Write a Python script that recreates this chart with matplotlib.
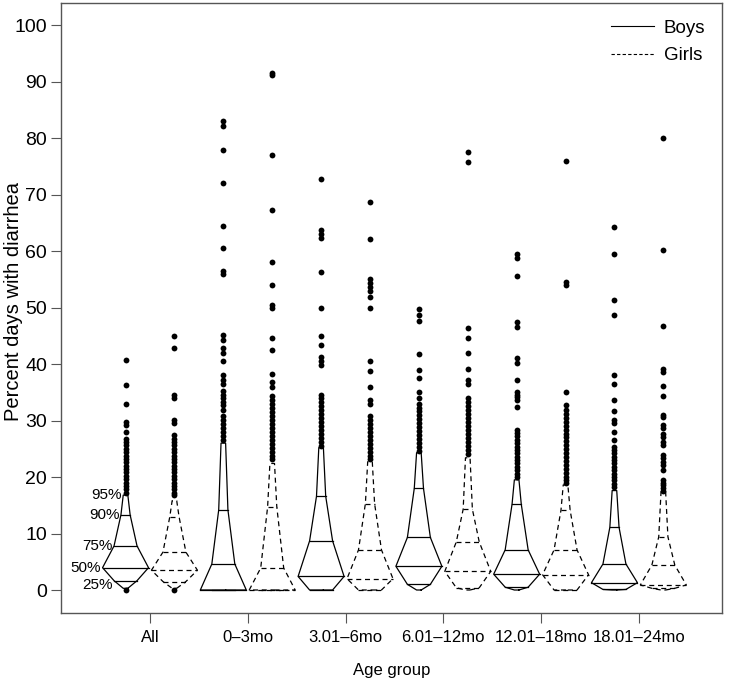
import matplotlib.pyplot as plt
from matplotlib.lines import Line2D

plt.rcParams['font.family'] = ['Liberation Sans', 'DejaVu Sans']

groups = ['All', '0\u20133mo', '3.01\u20136mo', '6.01\u201312mo', '12.01\u201318mo', '18.01\u201324mo']
probs = [0.05, 0.25, 0.5, 0.75, 0.9, 0.95]

# quantiles (5, 25, 50, 75, 90, 95 %) per age group
boys_q = [
    [0.3, 1.65, 3.95, 7.8, 13.3, 16.8],
    [0.0, 0.0, 0.0, 4.6, 14.2, 26.0],
    [0.0, 0.0, 2.4, 8.7, 16.6, 25.2],
    [0.0, 1.0, 4.2, 9.3, 18.0, 24.3],
    [0.0, 0.5, 2.8, 7.1, 15.2, 19.5],
    [0.0, 0.1, 1.3, 4.6, 11.1, 17.6],
]
girls_q = [
    [0.3, 1.5, 3.5, 6.7, 13.0, 15.8],
    [0.0, 0.0, 0.0, 3.9, 14.7, 22.4],
    [0.0, 0.0, 2.0, 7.1, 15.3, 22.7],
    [0.0, 0.4, 3.3, 8.5, 14.3, 23.4],
    [0.0, 0.0, 2.7, 7.1, 14.1, 18.6],
    [0.0, 0.3, 0.9, 4.4, 9.4, 17.4],
]

# observations above the 95th percentile
boys_hi = [
    [40.7, 36.3, 33.0, 29.7, 29.2, 28.0, 26.8, 26.2, 25.6, 25.0, 24.4, 23.8, 23.2,
     22.6, 22.0, 21.4, 20.8, 20.2, 19.6, 19.0, 18.4, 17.8, 17.2],
    [83.0, 82.2, 77.8, 72.0, 64.5, 60.6, 56.4, 56.0, 45.2, 44.2, 42.9, 42.0, 40.6,
     38.1, 37.1, 36.4, 35.3, 34.6, 33.9, 33.2, 32.8, 31.8, 30.8, 30.1, 29.4, 28.7,
     28.0, 27.3, 26.6],
    [72.8, 63.7, 63.0, 62.3, 56.3, 50.0, 44.9, 43.4, 41.3, 40.6, 39.9, 34.6, 33.9,
     33.2, 32.5, 31.8, 31.1, 30.4, 29.7, 29.0, 28.3, 27.6, 26.9, 26.2, 25.5],
    [49.8, 48.6, 47.7, 41.7, 39.0, 37.6, 35.0, 33.9, 33.0, 32.3, 31.6, 30.9, 30.2,
     29.5, 28.8, 28.1, 27.4, 26.7, 26.0, 25.3, 24.6],
    [59.4, 58.7, 55.6, 47.4, 46.5, 41.0, 40.2, 37.1, 35.1, 34.6, 34.1, 33.6, 32.4,
     28.4, 27.8, 27.2, 26.6, 26.0, 25.4, 24.8, 24.2, 23.6, 23.0, 22.4, 21.8, 21.2,
     20.6, 20.0],
    [64.3, 59.4, 51.3, 48.7, 38.1, 36.5, 33.7, 31.7, 30.1, 29.5, 28.0, 26.5, 25.4,
     24.8, 24.2, 23.6, 23.0, 22.4, 21.8, 21.2, 20.6, 20.0, 19.4, 18.8, 18.2],
]
girls_hi = [
    [44.9, 42.9, 34.5, 33.9, 30.1, 29.5, 27.4, 26.8, 26.2, 25.6, 25.0, 24.4, 23.8,
     23.2, 22.6, 22.0, 21.4, 20.8, 20.2, 19.6, 19.0, 18.4, 17.8, 17.2, 16.8],
    [91.5, 91.1, 77.0, 67.3, 58.0, 53.9, 50.4, 49.9, 44.6, 42.5, 38.3, 36.8, 36.0,
     34.3, 33.6, 32.9, 32.2, 31.5, 30.8, 30.1, 29.4, 28.7, 28.0, 27.3, 26.6, 25.9,
     25.2, 24.5, 23.8, 23.1],
    [68.6, 62.1, 55.0, 54.3, 53.6, 52.9, 51.8, 50.0, 40.6, 38.8, 36.0, 33.6, 32.9,
     30.8, 30.1, 29.4, 28.7, 28.0, 27.3, 26.6, 25.9, 25.2, 24.5, 23.8, 23.1],
    [77.6, 75.7, 46.3, 44.6, 42.0, 39.2, 37.1, 36.4, 33.9, 33.2, 32.5, 31.8, 31.1,
     30.4, 29.7, 29.0, 28.3, 27.6, 26.9, 26.2, 25.5, 24.8, 24.1],
    [76.0, 54.5, 54.0, 35.1, 32.7, 31.9, 31.2, 30.5, 29.8, 29.1, 28.4, 27.7, 27.0,
     26.3, 25.6, 24.9, 24.2, 23.5, 22.8, 22.1, 21.4, 20.7, 20.0, 19.4, 18.9],
    [80.0, 60.2, 46.8, 39.2, 38.6, 36.1, 34.3, 31.0, 30.6, 29.2, 28.6, 27.7, 27.1,
     26.2, 25.7, 23.9, 23.3, 22.7, 22.1, 21.2, 19.5, 19.0, 18.5, 18.0, 17.6],
]
# observations below the 5th percentile
boys_lo = [[0.0], [], [], [], [], []]
girls_lo = [[0.0], [], [], [], [], []]

pct_labels = ['25%', '50%', '75%', '90%', '95%']

fig = plt.figure(figsize=(7.37, 6.83), dpi=100)
ax = fig.add_axes([61 / 737, 70 / 683, 661 / 737, 610 / 683])

offset = 0.25
scale = 0.47
edge = '#555555'


def draw_shape(xc, q, hi, lo, ls):
    hw = [scale * min(p, 1 - p) for p in probs]
    xs = [xc + w for w in hw] + [xc - w for w in hw[::-1]]
    ys = list(q) + list(q[::-1])
    dash = (4, 3) if ls == '--' else (None, None)
    ax.plot(xs + xs[:1], ys + ys[:1], color='black', lw=0.9, ls=ls, dashes=dash)
    for w, v in zip(hw[1:5], q[1:5]):
        ax.plot([xc - w, xc + w], [v, v], color='black', lw=0.9, ls=ls, dashes=dash)
    pts = list(hi) + list(lo)
    ax.plot([xc] * len(pts), pts, 'o', color='black', ms=4.2, mew=0)
    return hw


for i in range(len(groups)):
    x = i + 1
    hw = draw_shape(x - offset, boys_q[i], boys_hi[i], boys_lo[i], '-')
    draw_shape(x + offset, girls_q[i], girls_hi[i], girls_lo[i], '--')
    if i == 0:
        for k, lab in enumerate(pct_labels):
            y = boys_q[0][k + 1]
            dy = -3 if lab == '25%' else 0
            ax.annotate(lab, (x - offset - hw[k + 1], y), xytext=(-1, dy),
                        textcoords='offset points', ha='right', va='center',
                        fontsize=11)

ax.set_xlim(0.09, 6.85)
ax.set_ylim(-4.07, 103.9)
ax.set_xticks(range(1, len(groups) + 1))
ax.set_xticklabels(groups, fontsize=12)
ax.set_yticks(range(0, 101, 10))
ax.tick_params(axis='y', labelsize=14, length=7, color=edge, pad=3)
ax.tick_params(axis='x', length=7, color=edge, pad=5)
for s in ax.spines.values():
    s.set_color(edge)
    s.set_linewidth(1.0)

ax.set_xlabel('Age group', fontsize=12)
ax.xaxis.set_label_coords(0.5, -50 / 610)
ax.set_ylabel('Percent days with diarrhea', fontsize=14.5)
ax.yaxis.set_label_coords(-38 / 661, 0.51)

handles = [Line2D([], [], color='black', lw=0.8),
           Line2D([], [], color='black', lw=0.8, ls='--', dashes=(3, 2))]
ax.legend(handles, ['Boys', 'Girls'], loc='upper right', frameon=False,
          fontsize=13.5, handlelength=2.3, handletextpad=0.5,
          borderaxespad=0.5, labelspacing=0.55,
          bbox_to_anchor=(1.0, 1.0))

fig.savefig('out.png', dpi=100)
